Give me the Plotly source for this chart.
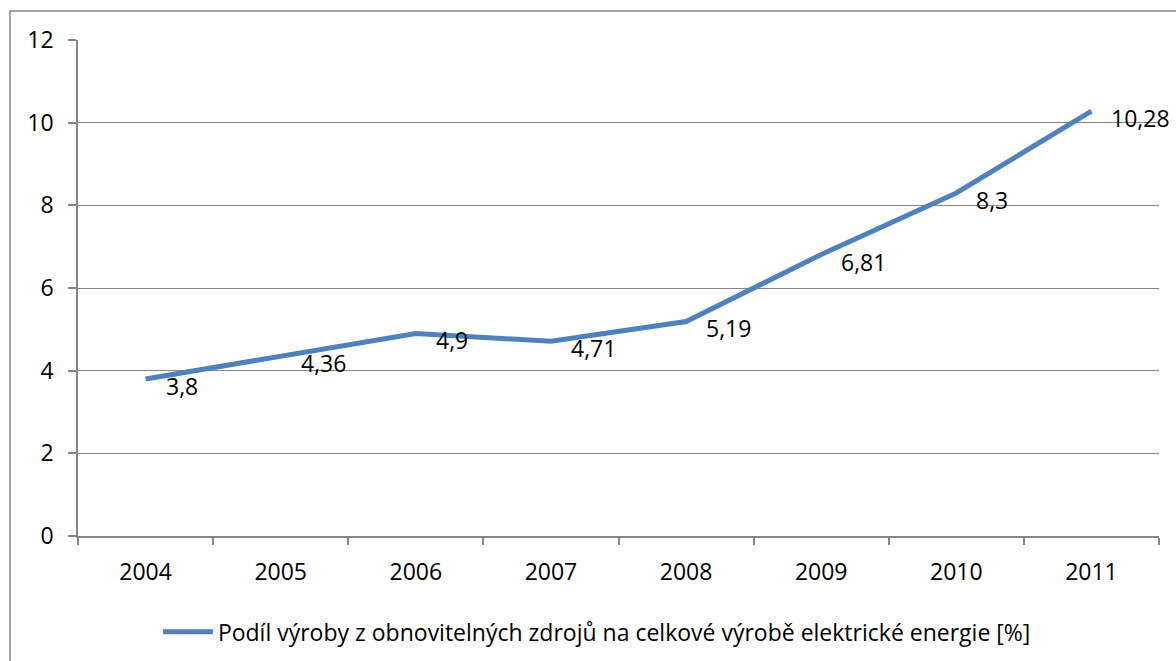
import plotly.graph_objects as go

# Share of renewable sources in total electricity production (Czech Republic)
years = ["2004", "2005", "2006", "2007", "2008", "2009", "2010", "2011"]
share = [3.8, 4.36, 4.9, 4.71, 5.19, 6.81, 8.3, 10.28]
label_text = ["3,8", "4,36", "4,9", "4,71", "5,19", "6,81", "8,3", "10,28"]
series_name = "Podíl výroby z obnovitelných zdrojů na celkové výrobě elektrické energie [%]"

W, H = 1176, 661
ml, mr, mt, mb = 78, 17, 40, 125
plot_w = W - ml - mr
plot_h = H - mt - mb

FONT = "Open Sans"
FS = 23
GRID = "#868686"
BLUE = "#4F81BD"

fig = go.Figure()
fig.add_trace(go.Scatter(
    x=years, y=share, mode="lines", name=series_name,
    line=dict(color=BLUE, width=5),
    hoverinfo="x+y",
))

# value labels to the right of each point (category index on the x axis)
for i, (y, t) in enumerate(zip(share, label_text)):
    fig.add_annotation(
        xref="x", yref="y", x=i, y=y, text=t, showarrow=False,
        xanchor="left", yanchor="middle", xshift=18, yshift=-7,
        font=dict(family=FONT, size=FS, color="#000000"),
    )

# outer chart frame
fig.add_shape(
    type="rect", xref="paper", yref="paper",
    x0=(10 - ml) / plot_w, x1=1.2,
    y0=-0.5, y1=(plot_h + mt - 11) / plot_h,
    line=dict(color=GRID, width=1.5), fillcolor="rgba(0,0,0,0)", layer="below",
)

fig.update_layout(
    width=W, height=H,
    margin=dict(l=ml, r=mr, t=mt, b=mb, autoexpand=False),
    paper_bgcolor="white", plot_bgcolor="white",
    font=dict(family=FONT, size=FS, color="#000000"),
    showlegend=True,
    legend=dict(
        orientation="h", x=0.48, xanchor="center", y=-0.15, yanchor="top",
        font=dict(family=FONT, size=FS), itemwidth=50,
    ),
    xaxis=dict(
        type="category", range=[-0.5, 7.5], automargin=False,
        showline=True, linecolor=GRID, linewidth=1.5,
        ticks="outside", tickson="boundaries", ticklen=7, tickcolor=GRID, tickwidth=1.5,
        showgrid=False, zeroline=False,
        tickfont=dict(family=FONT, size=FS),
        ticklabelstandoff=15,
    ),
    yaxis=dict(
        range=[0, 12], dtick=2, tick0=0, automargin=False,
        showline=True, linecolor=GRID, linewidth=1.5,
        ticks="outside", ticklen=8, tickcolor=GRID, tickwidth=1.5,
        showgrid=True, gridcolor=GRID, gridwidth=1,
        zeroline=False,
        tickfont=dict(family=FONT, size=FS),
        ticklabelstandoff=10,
    ),
)

fig.write_html("out.html")
